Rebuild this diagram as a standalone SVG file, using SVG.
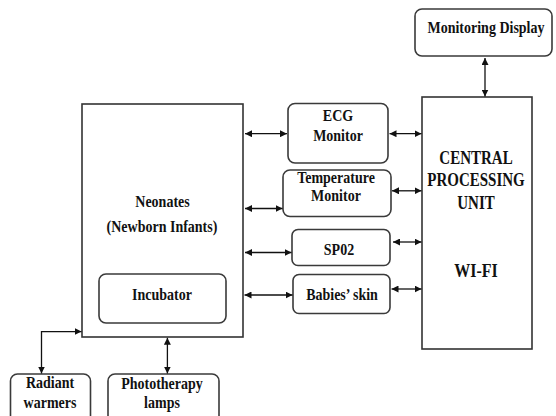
<svg xmlns="http://www.w3.org/2000/svg" width="556" height="416" viewBox="0 0 556 416">
<defs>
<marker id="ah" viewBox="0 0 10 10" refX="10" refY="5" markerWidth="7" markerHeight="7" markerUnits="userSpaceOnUse" orient="auto-start-reverse">
<path d="M0,0 L10,5 L0,10 z" fill="#111"/>
</marker>
</defs>
<style>
.box{fill:#fff;stroke:#333;stroke-width:1.6}
.rbox{fill:#fff;stroke:#3a3a3a;stroke-width:1.6}
text{font-family:'Liberation Serif',serif;font-weight:700;font-size:14px;fill:#111;text-anchor:middle}
.c{fill:none;stroke:#111;stroke-width:1.3;marker-start:url(#ah);marker-end:url(#ah)}
</style>
<rect width="556" height="416" fill="#fff"/>

<g id="monitoring-display">
<rect class="rbox" x="415" y="9" width="137" height="47" rx="7"/>
<text transform="scale(1 1.2)" x="486" y="27.1">Monitoring Display</text>
</g>

<g id="cpu">
<rect class="box" x="422" y="97" width="110" height="252"/>
<text style="font-size:15px" transform="scale(1 1.2)" x="476" y="136.7">CENTRAL</text>
<text style="font-size:15px" transform="scale(1 1.2)" x="476" y="155.4">PROCESSING</text>
<text style="font-size:15px" transform="scale(1 1.2)" x="476" y="174.2">UNIT</text>
<text style="font-size:16px" transform="scale(1 1.2)" x="476" y="230.8">WI-FI</text>
</g>

<g id="neonates">
<rect class="box" x="82" y="104" width="161" height="233"/>
<text transform="scale(1 1.2)" x="162.5" y="172.1">Neonates</text>
<text transform="scale(1 1.2)" x="162" y="193.3">(Newborn Infants)</text>
</g>

<g id="incubator">
<rect class="rbox" x="99" y="274" width="127" height="49" rx="7"/>
<text transform="scale(1 1.2)" x="162" y="249.6">Incubator</text>
</g>

<g id="ecg">
<rect class="rbox" x="288" y="103.5" width="100" height="59.5" rx="7"/>
<text transform="scale(1 1.2)" x="338" y="101.25">ECG</text>
<text transform="scale(1 1.2)" x="338" y="117.1">Monitor</text>
</g>

<g id="temperature">
<rect class="rbox" x="283" y="170" width="108" height="46.5" rx="7"/>
<text transform="scale(1 1.2)" x="336" y="152.9">Temperature</text>
<text transform="scale(1 1.2)" x="336" y="167.1">Monitor</text>
</g>

<g id="sp02">
<rect class="rbox" x="292" y="229.5" width="98" height="36" rx="6"/>
<text transform="scale(1 1.2)" x="339" y="212.9">SP02</text>
</g>

<g id="babies-skin">
<rect class="rbox" x="293" y="274.5" width="97" height="39" rx="6"/>
<text transform="scale(1 1.2)" x="342" y="249.6">Babies’ skin</text>
</g>

<g id="radiant-warmers">
<rect class="rbox" x="10.5" y="374" width="80" height="60" rx="7"/>
<text transform="scale(1 1.2)" x="50" y="323.75">Radiant</text>
<text transform="scale(1 1.2)" x="50" y="339.6">warmers</text>
</g>

<g id="phototherapy-lamps">
<rect class="rbox" x="108" y="374" width="111" height="60" rx="7"/>
<text transform="scale(1 1.2)" x="162" y="324.2">Phototherapy</text>
<text transform="scale(1 1.2)" x="162" y="339.6">lamps</text>
</g>

<g id="connectors">
<path class="c" d="M485,58 L485,96.5"/>
<path class="c" d="M245,133.7 L287,133.7"/>
<path class="c" d="M389.5,133.7 L421.5,133.7"/>
<path class="c" d="M245,208.5 L282.5,208.5"/>
<path class="c" d="M392,190.8 L421.5,190.8"/>
<path class="c" d="M245,252.5 L291.5,252.5"/>
<path class="c" d="M393,242 L421.5,242"/>
<path class="c" d="M244.5,295 L292.5,295"/>
<path class="c" d="M391.5,289 L421.5,289"/>
<path class="c" d="M41.5,373.5 L41.5,331.6 L81.5,331.6"/>
<path class="c" d="M167.4,337.8 L167.4,373.5"/>
</g>
</svg>
